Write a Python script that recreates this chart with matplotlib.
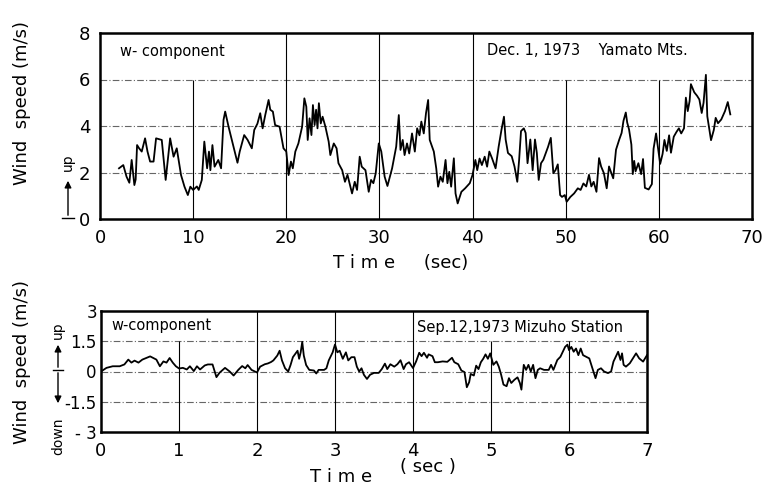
import numpy as np
import matplotlib
matplotlib.use('Agg')
import matplotlib.pyplot as plt

# Yamato Mts., Dec. 1, 1973 -- w-component
t_top = [2.04, 2.5, 2.85, 3.15, 3.4, 3.69, 3.83, 3.98, 4.2, 4.48, 4.84, 5.1, 5.38, 5.75,
         6.02, 6.63, 7.05, 7.3, 7.53, 7.9, 8.24, 8.5, 8.7, 9.07, 9.43, 9.7, 10.0, 10.4,
         10.6, 10.93, 11.2, 11.5, 11.7, 11.85, 12.07, 12.3, 12.7, 13.0, 13.26, 13.44,
         13.8, 14.33, 14.76, 15.0, 15.48, 15.85, 16.3, 16.56, 16.9, 17.2, 17.46, 17.74,
         18.1, 18.28, 18.56, 18.8, 19.28, 19.7, 20.0, 20.25, 20.5, 20.7, 20.97, 21.3,
         21.7, 21.94, 22.15, 22.3, 22.5, 22.7, 22.86, 23.04, 23.2, 23.35, 23.5, 23.7,
         23.9, 24.2, 24.55, 24.73, 25.1, 25.4, 25.6, 26.0, 26.3, 26.57, 27.06, 27.35,
         27.6, 27.88, 28.1, 28.5, 28.85, 29.1, 29.35, 29.6, 29.93, 30.2, 30.56, 30.86,
         31.36, 31.8, 32.08, 32.26, 32.5, 32.7, 32.96, 33.2, 33.5, 33.8, 34.05, 34.3,
         34.5, 34.76, 35.0, 35.23, 35.4, 35.84, 36.1, 36.3, 36.55, 36.8, 37.1, 37.3,
         37.5, 37.7, 37.99, 38.17, 38.4, 38.8, 39.2, 39.7, 40.0, 40.3, 40.5, 40.75,
         41.0, 41.3, 41.56, 41.8, 42.1, 42.47, 42.8, 43.1, 43.37, 43.55, 43.8, 44.2,
         44.5, 44.8, 45.0, 45.2, 45.5, 45.7, 45.9, 46.2, 46.45, 46.7, 46.9, 47.1, 47.35,
         47.6, 48.1, 48.4, 48.67, 48.9, 49.15, 49.4, 49.6, 49.9, 50.1, 50.5, 50.9, 51.3,
         51.6, 51.9, 52.2, 52.5, 52.75, 53.0, 53.3, 53.58, 53.8, 54.1, 54.4, 54.65,
         54.83, 55.1, 55.4, 55.75, 56.0, 56.2, 56.45, 56.6, 56.8, 57.05, 57.2, 57.35,
         57.5, 57.8, 58.1, 58.3, 58.5, 58.9, 59.25, 59.43, 59.7, 59.9, 60.14, 60.4,
         60.6, 60.85, 61.1, 61.3, 61.6, 61.9, 62.15, 62.4, 62.7, 62.9, 63.1, 63.3,
         63.44, 63.8, 64.1, 64.35, 64.6, 64.8, 65.05, 65.2, 65.6, 65.9, 66.1, 66.35,
         66.7, 67.1, 67.4, 67.67]
w_top = [2.18, 2.32, 1.82, 1.56, 2.54, 1.46, 1.7, 3.18, 3.04, 2.9, 3.47, 2.9, 2.47, 2.47,
         3.47, 3.4, 1.68, 2.6, 3.47, 2.68, 3.04, 2.4, 1.89, 1.39, 1.03, 1.39, 1.25, 1.4,
         1.25, 1.68, 3.33, 2.18, 2.9, 2.1, 3.18, 2.25, 2.54, 2.18, 4.26, 4.62,
         3.97, 3.11, 2.42, 2.9, 3.61, 3.4, 3.04, 3.83, 4.1, 4.55, 3.9, 4.47,
         5.12, 4.7, 4.62, 4.04, 3.97, 3.04, 2.9, 1.89, 2.47, 2.18, 2.9, 3.25,
         3.97, 5.19, 4.83, 3.4, 4.33, 3.61, 4.9, 4.04, 4.7, 3.9, 4.98, 4.11,
         4.4, 3.97, 3.33, 2.75, 3.25, 3.04, 2.4, 2.1, 1.6, 1.9, 1.1, 1.6,
         1.25, 2.68, 2.25, 2.1, 1.17, 1.68, 1.54, 1.96, 3.25, 2.9, 1.82, 1.42,
         2.18, 3.11, 4.47, 2.97, 3.4, 2.75, 3.25, 2.82, 3.68, 2.9, 3.9, 3.6,
         4.19, 3.68, 4.55, 5.12, 3.4, 2.9, 2.18, 1.39, 1.82, 1.6, 2.54, 1.54,
         2.03, 1.39, 2.61, 1.1, 0.67, 1.17, 1.32, 1.54, 1.9, 2.54, 2.1, 2.6,
         2.32, 2.68, 2.25, 2.9, 2.6, 2.18, 3.11, 3.83, 4.4, 3.42, 2.84, 2.7,
         2.26, 1.6, 2.55, 3.78, 3.9, 3.7, 2.4, 3.42, 2.1, 3.42, 2.84, 1.68, 2.4,
         2.55, 3.1, 3.49, 1.97, 2.1, 2.35, 1.03, 0.95, 1.03, 0.74, 0.95, 1.1, 1.32,
         1.25, 1.53, 1.4, 1.9, 1.4, 1.6, 1.17, 2.62, 2.26, 1.97, 1.32, 2.26,
         2.05, 1.75, 2.98, 3.42, 3.7, 4.22, 4.58, 4.15, 3.85, 3.2, 1.93, 2.5,
         2.05, 2.4, 1.93, 2.58, 1.34, 1.27, 1.5, 3.02, 3.68, 3.1, 2.37, 2.8,
         3.4, 2.93, 3.6, 2.85, 3.54, 3.75, 3.9, 3.68, 3.9, 5.22, 4.64, 5.07,
         5.8, 5.45, 5.3, 5.14, 4.56, 5.0, 6.2, 4.42, 3.39, 3.83, 4.35, 4.12,
         4.28, 4.64, 5.03, 4.5]

# Mizuho Station, Sep. 12, 1973 -- w-component
t_bot = [0.0, 0.07, 0.15, 0.24, 0.3, 0.35, 0.39, 0.43, 0.48, 0.53, 0.58, 0.63, 0.67, 0.71,
         0.755, 0.8, 0.84, 0.88, 0.92, 0.96, 1.0, 1.05, 1.1, 1.14, 1.19, 1.23, 1.27, 1.33,
         1.37, 1.43, 1.48, 1.52, 1.59, 1.65, 1.7, 1.76, 1.81, 1.85, 1.88, 1.93, 2.0,
         2.04, 2.1, 2.14, 2.18, 2.21, 2.26, 2.29, 2.32, 2.36, 2.40, 2.43, 2.46, 2.49,
         2.52, 2.54, 2.56, 2.58, 2.6, 2.63, 2.67, 2.73, 2.76, 2.79, 2.86, 2.89, 2.92,
         2.97, 3.0, 3.03, 3.06, 3.1, 3.14, 3.17, 3.21, 3.25, 3.28, 3.31, 3.34, 3.37,
         3.41, 3.45, 3.5, 3.56, 3.6, 3.64, 3.67, 3.71, 3.76, 3.8, 3.84, 3.88, 3.91,
         3.95, 4.0, 4.04, 4.08, 4.11, 4.14, 4.18, 4.2, 4.25, 4.28, 4.32, 4.38, 4.44,
         4.5, 4.53, 4.58, 4.62, 4.66, 4.69, 4.72, 4.74, 4.78, 4.81, 4.84, 4.87, 4.9,
         4.93, 4.96, 4.99, 5.03, 5.07, 5.1, 5.13, 5.16, 5.2, 5.23, 5.26, 5.3, 5.34,
         5.37, 5.39, 5.42, 5.45, 5.48, 5.51, 5.54, 5.57, 5.6, 5.63, 5.68, 5.74, 5.77,
         5.8, 5.85, 5.89, 5.92, 5.95, 5.98, 6.0, 6.03, 6.06, 6.09, 6.12, 6.15, 6.18,
         6.22, 6.26, 6.3, 6.34, 6.37, 6.41, 6.45, 6.5, 6.54, 6.57, 6.6, 6.63, 6.66,
         6.68, 6.7, 6.73, 6.78, 6.82, 6.86, 6.9, 6.95, 7.0]
w_bot = [0.0, 0.18, 0.26, 0.26, 0.35, 0.59, 0.44, 0.54, 0.44, 0.59, 0.67, 0.75, 0.67, 0.59,
         0.26, 0.5, 0.44, 0.67, 0.44, 0.26, 0.15, 0.18, 0.1, 0.26, 0.02, 0.26, 0.1, 0.3,
         0.35, 0.35, -0.28, -0.06, 0.18, 0.0, -0.2, 0.08, 0.27, 0.16, 0.32, 0.08, -0.05,
         0.24, 0.36, 0.4, 0.47, 0.55, 0.79, 1.03, 0.55, 0.16, 0.0, 0.32, 0.71, 0.87,
         1.03, 0.63, 0.95, 1.47, 0.79, 0.32, 0.08, 0.05, -0.1, 0.08, 0.08, 0.16, 0.55,
         0.95, 1.34, 0.95, 1.03, 0.63, 0.95, 0.55, 0.71, 0.71, 0.24, 0.0, 0.16, -0.16,
         -0.37, -0.16, -0.07, -0.07, 0.12, 0.39, 0.12, 0.36, 0.24, 0.36, 0.56, 0.12, 0.36,
         0.46, 0.17, 0.5, 0.93, 0.76, 0.93, 0.68, 0.85, 0.76, 0.46, 0.46, 0.5, 0.48,
         0.68, 0.46, 0.36, 0.05, -0.03, -0.78, -0.53, -0.12, -0.2, 0.29, 0.12, 0.46, 0.63,
         0.85, 0.63, 0.9, 0.33, 0.5, 0.24, -0.16, -0.65, -0.73, -0.33, -0.57, -0.41, -0.29,
         -0.57, -0.9, 0.33, 0.08, 0.33, 0.0, 0.33, -0.33, 0.08, 0.16, 0.08, 0.08, 0.33,
         0.08, 0.57, 0.73, 0.98, 1.22, 1.33, 1.06, 1.22, 0.98, 1.14, 0.81, 1.14, 0.81,
         0.73, 0.65, 0.16, -0.33, 0.08, 0.16, 0.0, -0.08, 0.0, 0.49, 0.73, 0.98, 0.57,
         0.9, 0.33, 0.24, 0.41, 0.65, 0.9, 0.65, 0.49, 0.81]

top_xticks = [0, 10, 20, 30, 40, 50, 60, 70]
top_yticks = [0, 2, 4, 6, 8]
bot_xticks = [0, 1, 2, 3, 4, 5, 6, 7]
bot_yticks = [-3, -1.5, 0, 1.5, 3]
bot_ylabels = ['- 3', '-1.5', '0', '1.5', '3']

plt.rcParams['font.family'] = 'DejaVu Sans'

fig = plt.figure(figsize=(7.66, 4.88), dpi=100)
ax1 = fig.add_axes([100 / 766, 1 - 219 / 488, 652 / 766, 186 / 488])
ax2 = fig.add_axes([101 / 766, 1 - 432 / 488, 546 / 766, 121 / 488])

def style(ax):
    for s in ax.spines.values():
        s.set_linewidth(1.8)
    ax.tick_params(length=0, pad=7, labelsize=13)

# top panel
ax1.set_xlim(0, 70)
ax1.set_ylim(0, 8)
ax1.set_xticks(top_xticks)
ax1.set_yticks(top_yticks)
ax1.hlines([2, 4, 6], 0, 70, colors='0.4', lw=0.8, linestyles=(0, (6, 2, 1, 2)))
ax1.vlines([20, 30, 40], 0, 8, colors='k', lw=0.8)
ax1.vlines([10, 50, 60], 0, 6, colors='k', lw=0.8)
ax1.plot(t_top, w_top, 'k', lw=1.3)
ax1.text(2.2, 7.2, 'w- component', fontsize=10.5, va='center')
ax1.text(41.5, 7.25, 'Dec. 1, 1973    Yamato Mts.', fontsize=10.5, va='center')
style(ax1)

# bottom panel
ax2.set_xlim(0, 7)
ax2.set_ylim(-3, 3)
ax2.set_xticks(bot_xticks)
ax2.set_yticks(bot_yticks)
ax2.set_yticklabels(bot_ylabels)
ax2.hlines([-1.5, 0, 1.5], 0, 7, colors='0.4', lw=0.8, linestyles=(0, (6, 2, 1, 2)))
ax2.vlines([2, 3, 4], -3, 3, colors='k', lw=0.8)
ax2.vlines([1, 5, 6], -3, 1.5, colors='k', lw=0.8)
ax2.plot(t_bot, w_bot, 'k', lw=1.3)
ax2.text(0.13, 2.3, 'w-component', fontsize=10.5, va='center')
ax2.text(4.05, 2.2, 'Sep.12,1973 Mizuho Station', fontsize=10.5, va='center')
style(ax2)
ax2.tick_params(axis='y', pad=3, labelsize=12)

# axis titles
fig.text(22 / 766, 1 - 103 / 488, 'Wind  speed (m/s)', rotation=90,
         ha='center', va='center', fontsize=13)
fig.text(22 / 766, 1 - 362 / 488, 'Wind  speed (m/s)', rotation=90,
         ha='center', va='center', fontsize=13)
fig.text(333 / 766, 1 - 263 / 488, 'T i m e     (sec)', ha='left', va='center', fontsize=13)
fig.text(310 / 766, 1 - 477 / 488, 'T i m e', ha='left', va='center', fontsize=13)
fig.text(400 / 766, 1 - 467 / 488, '( sec )', ha='left', va='center', fontsize=13)

# up / down arrows
fig.text(68 / 766, 1 - 162 / 488, 'up', rotation=90, ha='center', va='center', fontsize=10)
fig.add_artist(matplotlib.patches.FancyArrowPatch(
    (68 / 766, 1 - 218 / 488), (68 / 766, 1 - 178 / 488), transform=fig.transFigure,
    arrowstyle='-|>,head_length=4,head_width=2', color='k', lw=1))
fig.add_artist(plt.Line2D([62 / 766, 74 / 766], [1 - 218 / 488] * 2,
                          transform=fig.transFigure, color='k', lw=1))
bx = 58
fig.text(bx / 766, 1 - 330 / 488, 'up', rotation=90, ha='center', va='center', fontsize=10)
fig.text(bx / 766, 1 - 436 / 488, 'down', rotation=90, ha='center', va='center', fontsize=10)
for y_end in (342, 406):
    fig.add_artist(matplotlib.patches.FancyArrowPatch(
        (bx / 766, 1 - 370 / 488), (bx / 766, 1 - y_end / 488), transform=fig.transFigure,
        arrowstyle='-|>,head_length=4,head_width=2', color='k', lw=1))
fig.add_artist(plt.Line2D([(bx - 5) / 766, (bx + 5) / 766], [1 - 370 / 488] * 2,
                          transform=fig.transFigure, color='k', lw=1))

fig.savefig('out.png', dpi=100)
